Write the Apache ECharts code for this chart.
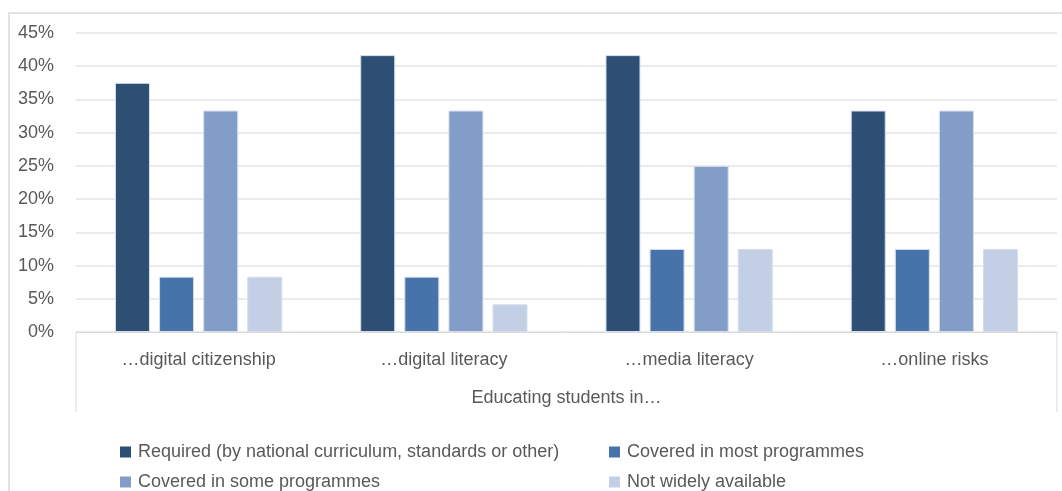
<!DOCTYPE html>
<html><head><meta charset="utf-8">
<script src="https://cdn.jsdelivr.net/npm/echarts@6/dist/echarts.min.js"></script>
<style>html,body{margin:0;padding:0;background:#fff}#c{width:1062px;height:491px}</style>
</head><body><div id="c"></div>
<script>
const categories = ['…digital citizenship', '…digital literacy', '…media literacy', '…online risks'];
const seriesNames = ['Required (by national curriculum, standards or other)', 'Covered in most programmes', 'Covered in some programmes', 'Not widely available'];
const required = [37.5, 41.67, 41.67, 33.33];
const coveredMost = [8.33, 8.33, 12.5, 12.5];
const coveredSome = [33.33, 33.33, 25, 33.33];
const notAvailable = [8.33, 4.17, 12.5, 12.5];
const yTicks = [0, 5, 10, 15, 20, 25, 30, 35, 40, 45];
const xTitle = 'Educating students in…';

const colors = ['#2C4F73', '#4674AA', '#829DC8', '#C2CFE5'];
const values = [required, coveredMost, coveredSome, notAvailable];
const font = 'Liberation Sans, Arial, sans-serif';
const chart = echarts.init(document.getElementById('c'));
const gridLeft = 76, gridRight = 5, gridTop = 33, gridBottom = 159;
const legendPos = [[120, 443], [609, 443], [120, 473], [609, 473]];
chart.setOption({
  animation: false,
  color: colors,
  textStyle: { fontFamily: font },
  grid: { left: gridLeft, right: gridRight, top: gridTop, bottom: gridBottom, containLabel: false },
  xAxis: {
    type: 'category', data: categories,
    axisLine: { show: true, lineStyle: { color: '#D9D9D9', width: 1 } },
    axisTick: { show: false },
    axisLabel: { color: '#595959', fontSize: 18, margin: 19, fontFamily: font },
    name: xTitle, nameLocation: 'middle', nameGap: 57,
    nameTextStyle: { color: '#595959', fontSize: 18, fontFamily: font }
  },
  yAxis: {
    type: 'value', min: yTicks[0], max: yTicks[yTicks.length - 1], interval: 5,
    axisLine: { show: false }, axisTick: { show: false },
    axisLabel: { color: '#595959', fontSize: 18, margin: 22, formatter: '{value}%', fontFamily: font },
    splitLine: { lineStyle: { color: '#E4E4E4', width: 1.5 } }
  },
  legend: seriesNames.map((n, i) => ({
    data: [n], left: legendPos[i][0], top: legendPos[i][1], padding: 0,
    itemWidth: 11, itemHeight: 11, itemGap: 0, icon: 'rect',
    itemStyle: { borderWidth: 0 },
    textStyle: { color: '#595959', fontSize: 18, fontFamily: font, padding: [0, 0, 0, 2] }
  })),
  series: seriesNames.map((n, i) => ({
    name: n, type: 'bar', data: values[i],
    barWidth: 35, barGap: '26%', barCategoryGap: '31%',
    itemStyle: { color: colors[i], borderColor: '#D6DEEC', borderWidth: 1 }
  })),
  graphic: [
    { type: 'rect', shape: { x: 9, y: 13, width: 1100, height: 520 }, style: { fill: 'none', stroke: '#D9D9D9', lineWidth: 1.5 }, silent: true },
    { type: 'line', shape: { x1: gridLeft, y1: 491 - gridBottom, x2: gridLeft, y2: 412 }, style: { stroke: '#D9D9D9', lineWidth: 1 } },
    { type: 'line', shape: { x1: 1062 - gridRight, y1: 491 - gridBottom, x2: 1062 - gridRight, y2: 412 }, style: { stroke: '#D9D9D9', lineWidth: 1 } }
  ]
});
</script></body></html>
